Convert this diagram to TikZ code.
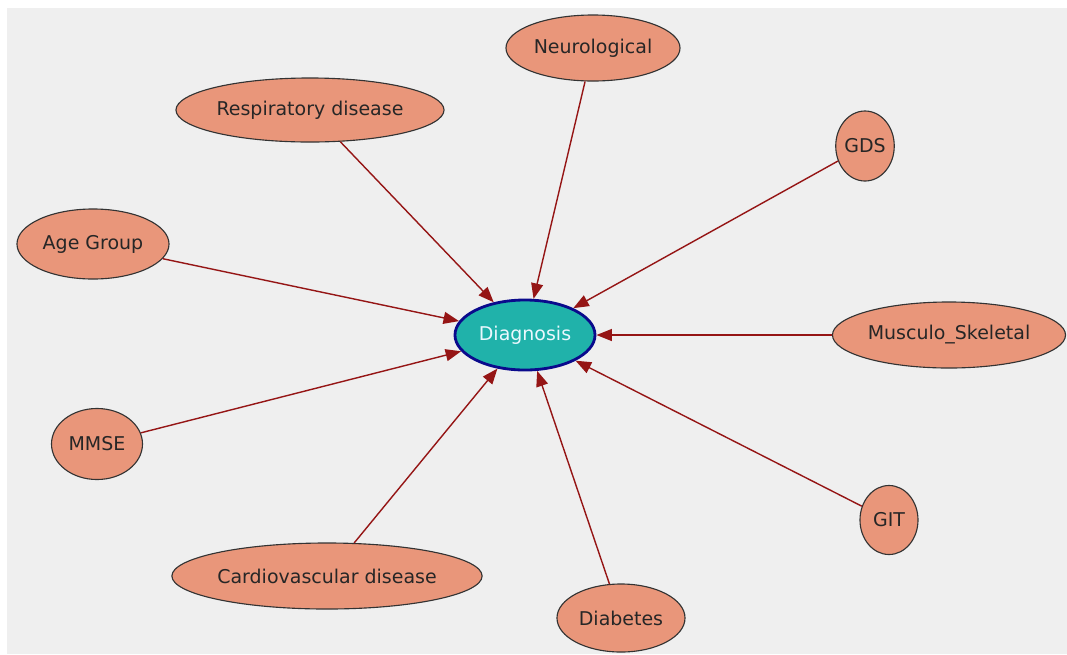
\documentclass[tikz,border=0pt]{standalone}
\usepackage{fontspec}
\setmainfont{DejaVu Sans}
\usetikzlibrary{shapes.geometric,arrows.meta}
\definecolor{bgrey}{HTML}{EFEFEF}
\definecolor{nodefill}{HTML}{E9967A}
\definecolor{diagfill}{HTML}{20B2AA}
\definecolor{diagline}{HTML}{0A0A8C}
\definecolor{linkred}{HTML}{951515}
\begin{document}
\begin{tikzpicture}[x=0.025cm,y=-0.025cm,every node/.style={font=\fontsize{13.5}{16}\selectfont}]
    \tikzset{
      var/.style={ellipse,draw=black!80,line width=0.8pt,fill=nodefill,text=black!85,inner sep=0pt},
      target/.style={ellipse,draw=diagline,line width=2pt,fill=diagfill,text=cyan!8,inner sep=0pt},
      link/.style={linkred,line width=1pt,-{Triangle[length=11pt,width=8.5pt]}}
    }
    \fill[white] (0,0) rectangle (1067,654);
    \useasboundingbox (0,0) rectangle (1067,654);
    \fill[bgrey] (7,8) rectangle (1067,654);
    \node[target,minimum width=3.5cm,minimum height=1.75cm] (diag) at (525,335) {Diagnosis};
    \node[var,minimum width=4.35cm,minimum height=1.65cm] (neuro) at (593,48) {Neurological};
    \node[var,minimum width=6.7cm,minimum height=1.6cm] (resp) at (310,110) {Respiratory disease};
    \node[var,minimum width=1.4cm,minimum height=1.75cm] (gds) at (865,146) {GDS};
    \node[var,minimum width=3.8cm,minimum height=1.75cm] (age) at (93,244) {Age Group};
    \node[var,inner xsep=-4pt,minimum width=5.825cm,minimum height=1.65cm] (musc) at (949,335) {Musculo\_Skeletal};
    \node[var,minimum width=2.275cm,minimum height=1.775cm] (mmse) at (97,444) {MMSE};
    \node[var,minimum width=1.45cm,minimum height=1.725cm] (git) at (889,520) {GIT};
    \node[var,minimum width=7.75cm,minimum height=1.65cm] (cardio) at (327,576) {Cardiovascular disease};
    \node[var,minimum width=3.2cm,minimum height=1.7cm] (diab) at (621,618) {Diabetes};
    \foreach \src in {neuro,resp,gds,age,musc,mmse,git,cardio,diab} {
      \draw[link] (\src) -- (diag);
    }
  \end{tikzpicture}
\end{document}
